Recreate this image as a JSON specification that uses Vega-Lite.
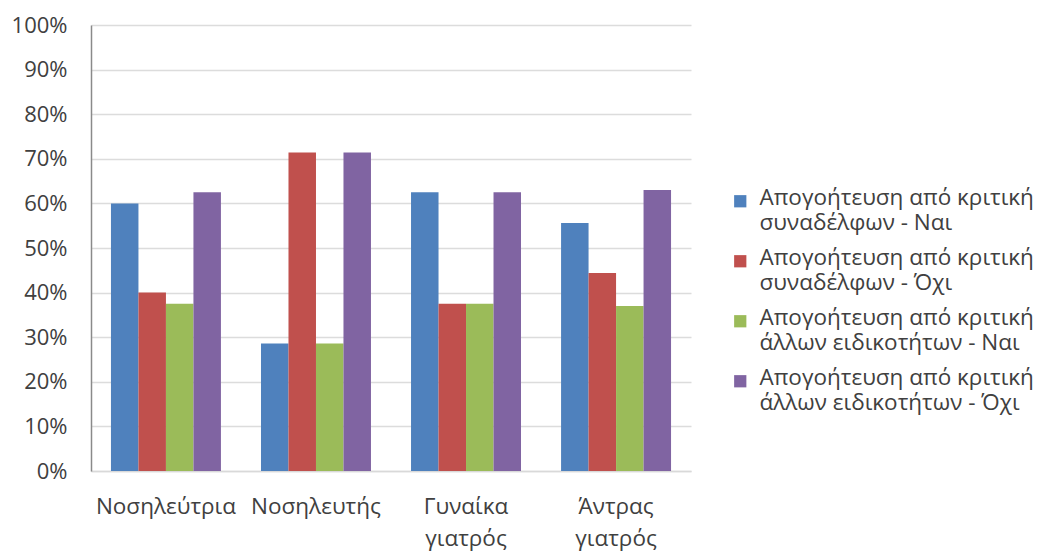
{
  "$schema": "https://vega.github.io/schema/vega-lite/v6.json",
  "autosize": "none",
  "width": 600,
  "height": 446,
  "padding": {"left": 91, "top": 25, "right": 352, "bottom": 82},
  "background": "white",
  "config": {
    "font": "Open Sans",
    "view": {"stroke": null}
  },
  "data": {
    "values": [
      {"group": "Νοσηλεύτρια", "series": "Απογοήτευση από κριτική συναδέλφων - Ναι", "value": 0.60},
      {"group": "Νοσηλεύτρια", "series": "Απογοήτευση από κριτική συναδέλφων - Όχι", "value": 0.40},
      {"group": "Νοσηλεύτρια", "series": "Απογοήτευση από κριτική άλλων ειδικοτήτων - Ναι", "value": 0.375},
      {"group": "Νοσηλεύτρια", "series": "Απογοήτευση από κριτική άλλων ειδικοτήτων - Όχι", "value": 0.625},
      {"group": "Νοσηλευτής", "series": "Απογοήτευση από κριτική συναδέλφων - Ναι", "value": 0.286},
      {"group": "Νοσηλευτής", "series": "Απογοήτευση από κριτική συναδέλφων - Όχι", "value": 0.714},
      {"group": "Νοσηλευτής", "series": "Απογοήτευση από κριτική άλλων ειδικοτήτων - Ναι", "value": 0.286},
      {"group": "Νοσηλευτής", "series": "Απογοήτευση από κριτική άλλων ειδικοτήτων - Όχι", "value": 0.714},
      {"group": "Γυναίκα γιατρός", "series": "Απογοήτευση από κριτική συναδέλφων - Ναι", "value": 0.625},
      {"group": "Γυναίκα γιατρός", "series": "Απογοήτευση από κριτική συναδέλφων - Όχι", "value": 0.375},
      {"group": "Γυναίκα γιατρός", "series": "Απογοήτευση από κριτική άλλων ειδικοτήτων - Ναι", "value": 0.375},
      {"group": "Γυναίκα γιατρός", "series": "Απογοήτευση από κριτική άλλων ειδικοτήτων - Όχι", "value": 0.625},
      {"group": "Άντρας γιατρός", "series": "Απογοήτευση από κριτική συναδέλφων - Ναι", "value": 0.556},
      {"group": "Άντρας γιατρός", "series": "Απογοήτευση από κριτική συναδέλφων - Όχι", "value": 0.444},
      {"group": "Άντρας γιατρός", "series": "Απογοήτευση από κριτική άλλων ειδικοτήτων - Ναι", "value": 0.370},
      {"group": "Άντρας γιατρός", "series": "Απογοήτευση από κριτική άλλων ειδικοτήτων - Όχι", "value": 0.630}
    ]
  },
  "mark": {"type": "bar"},
  "encoding": {
    "x": {
      "field": "group",
      "type": "nominal",
      "sort": null,
      "title": null,
      "scale": {"paddingInner": 0.267, "paddingOuter": 0.133},
      "axis": {
        "labelAngle": 0,
        "labelFontSize": 22.5,
        "labelColor": "#404040",
        "labelPadding": 35,
        "labelBaseline": "middle",
        "labelLineHeight": 32,
        "labelExpr": "datum.label == 'Νοσηλεύτρια' || datum.label == 'Νοσηλευτής' ? datum.label : split(datum.label, ' ')",
        "ticks": false,
        "domainColor": "#d9d9d9",
        "domainWidth": 1.5,
        "grid": false
      }
    },
    "xOffset": {
      "field": "series",
      "type": "nominal",
      "sort": null,
      "scale": {"paddingInner": 0, "paddingOuter": 0}
    },
    "y": {
      "field": "value",
      "type": "quantitative",
      "title": null,
      "scale": {"domain": [0, 1], "nice": false},
      "axis": {
        "format": ".0%",
        "values": [0, 0.1, 0.2, 0.3, 0.4, 0.5, 0.6, 0.7, 0.8, 0.9, 1],
        "labelFontSize": 22,
        "labelColor": "#404040",
        "labelPadding": 24,
        "ticks": false,
        "domainColor": "#8a8a8a",
        "domainWidth": 1.5,
        "gridColor": "#dcdcdc",
        "gridWidth": 1.5
      }
    },
    "color": {
      "field": "series",
      "type": "nominal",
      "sort": null,
      "title": null,
      "scale": {"range": ["#4f81bd", "#c0504d", "#9bbb59", "#8064a2"]},
      "legend": {
        "orient": "none",
        "legendX": 638,
        "legendY": 165,
        "symbolType": "square",
        "symbolSize": 150,
        "symbolStrokeWidth": 0,
        "labelFontSize": 22.5,
        "labelColor": "#404040",
        "labelLineHeight": 30,
        "labelBaseline": "top",
        "labelLimit": 400,
        "labelOffset": 8,
        "rowPadding": 12,
        "labelExpr": "[slice(datum.label, 0, 23), slice(datum.label, 24)]",
        "encode": {"labels": {"update": {"dy": {"value": -14}}}}
      }
    }
  }
}
